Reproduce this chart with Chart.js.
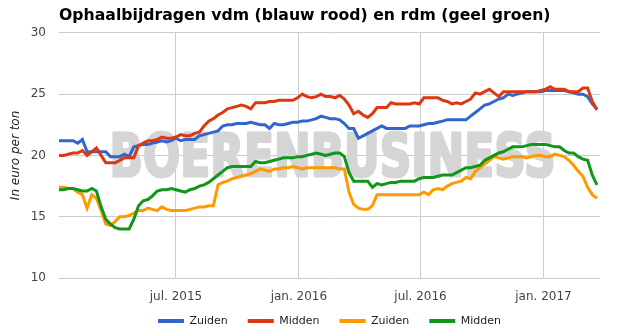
<!DOCTYPE html>
<html>
<head>
<meta charset="utf-8">
<script src="https://cdn.jsdelivr.net/npm/chart.js@4/dist/chart.umd.min.js"></script>
<style>
  html, body { margin: 0; padding: 0; background: #fff; }
  #wrap { width: 623px; height: 336px; }
</style>
</head>
<body>
<div id="wrap"><canvas id="c" width="623" height="336"></canvas></div>
<script>
// ---- data ----
const titleText = 'Ophaalbijdragen vdm (blauw rood) en rdm (geel groen)';
const yAxisTitle = 'In euro per ton';
const watermarkText = 'BOERENBUSINESS';
const startDate = '2015-01-07';           // first weekly observation
const tickLabels = ['jul. 2015', 'jan. 2016', 'jul. 2016', 'jan. 2017'];
const tickDates = ['2015-07-01', '2016-01-01', '2016-07-01', '2017-01-01'];
const seriesNames = ['Zuiden', 'Midden', 'Zuiden', 'Midden'];
const yTicks = [10, 15, 20, 25, 30];

const vdmZuiden = [
  21.2,21.2,21.2,21.2,21.0,21.3,20.3,20.3,20.3,20.3,
  20.3,19.9,19.9,19.9,20.1,19.9,20.7,20.8,20.9,20.9,
  21.0,21.1,21.2,21.1,21.2,21.4,21.2,21.3,21.3,21.3,
  21.6,21.7,21.8,21.9,22.0,22.4,22.5,22.5,22.6,22.6,
  22.6,22.7,22.6,22.5,22.5,22.2,22.6,22.5,22.5,22.6,
  22.7,22.7,22.8,22.8,22.9,23.0,23.2,23.1,23.0,23.0,
  22.9,22.6,22.2,22.2,21.4,21.6,21.8,22.0,22.2,22.4,
  22.2,22.2,22.2,22.2,22.2,22.4,22.4,22.4,22.5,22.6,
  22.6,22.7,22.8,22.9,22.9,22.9,22.9,22.9,23.2,23.5,
  23.8,24.1,24.2,24.4,24.6,24.7,25.0,24.9,25.0,25.1,
  25.2,25.2,25.2,25.2,25.3,25.3,25.3,25.3,25.3,25.2,
  25.1,25.0,25.0,24.8,24.2,23.8
];
const vdmMidden = [
  20.0,20.0,20.1,20.2,20.2,20.4,20.0,20.3,20.6,20.0,
  19.4,19.4,19.4,19.6,19.8,19.8,19.8,20.8,21.0,21.2,
  21.2,21.3,21.5,21.4,21.4,21.5,21.7,21.6,21.6,21.8,
  21.9,22.4,22.8,23.0,23.3,23.5,23.8,23.9,24.0,24.1,
  24.0,23.8,24.3,24.3,24.3,24.4,24.4,24.5,24.5,24.5,
  24.5,24.7,25.0,24.8,24.7,24.8,25.0,24.8,24.8,24.7,
  24.9,24.6,24.1,23.4,23.6,23.3,23.1,23.4,23.9,23.9,
  23.9,24.3,24.2,24.2,24.2,24.2,24.3,24.2,24.7,24.7,
  24.7,24.7,24.5,24.4,24.2,24.3,24.2,24.4,24.6,25.1,
  25.0,25.2,25.4,25.1,24.8,25.2,25.2,25.2,25.2,25.2,
  25.2,25.2,25.2,25.3,25.4,25.6,25.4,25.4,25.4,25.2,
  25.2,25.2,25.5,25.5,24.4,23.7
];
const rdmZuiden = [
  17.4,17.4,17.3,17.3,17.0,16.8,15.7,16.8,16.5,15.5,
  14.4,14.3,14.6,15.0,15.0,15.1,15.3,15.5,15.5,15.7,
  15.6,15.5,15.8,15.6,15.5,15.5,15.5,15.5,15.6,15.7,
  15.8,15.8,15.9,15.9,17.6,17.8,17.9,18.1,18.2,18.3,
  18.4,18.5,18.7,18.9,18.8,18.7,18.9,18.9,19.0,19.0,
  19.1,19.0,18.9,19.0,19.0,19.0,19.0,19.0,19.0,19.0,
  18.9,18.9,17.0,16.0,15.7,15.6,15.6,15.9,16.8,16.8,
  16.8,16.8,16.8,16.8,16.8,16.8,16.8,16.8,17.0,16.8,
  17.2,17.3,17.2,17.5,17.7,17.8,17.9,18.2,18.1,18.7,
  19.0,19.3,19.6,19.9,19.8,19.7,19.8,19.9,19.9,19.9,
  19.8,19.9,20.0,20.0,19.9,19.9,20.1,20.0,19.9,19.6,
  19.2,18.7,18.3,17.4,16.8,16.5
];
const rdmMidden = [
  17.2,17.2,17.3,17.3,17.2,17.1,17.1,17.3,17.1,15.8,
  14.8,14.4,14.1,14.0,14.0,14.0,14.8,15.9,16.3,16.4,
  16.7,17.1,17.2,17.2,17.3,17.2,17.1,17.0,17.2,17.3,
  17.5,17.6,17.8,18.1,18.4,18.7,19.0,19.1,19.1,19.1,
  19.1,19.1,19.5,19.4,19.4,19.5,19.6,19.7,19.8,19.8,
  19.8,19.9,19.9,20.0,20.1,20.2,20.1,20.0,20.1,20.2,
  20.2,19.9,18.6,17.9,17.9,17.9,17.9,17.4,17.7,17.6,
  17.7,17.8,17.8,17.9,17.9,17.9,17.9,18.1,18.2,18.2,
  18.2,18.3,18.4,18.4,18.4,18.6,18.8,19.0,19.0,19.1,
  19.2,19.6,19.8,20.0,20.2,20.3,20.5,20.7,20.7,20.7,
  20.8,20.9,20.9,20.9,20.9,20.8,20.7,20.7,20.4,20.2,
  20.2,19.9,19.7,19.6,18.4,17.6
];

// ---- helpers ----
const WEEK_MS = 7 * 86400000;
const weekIndex = d => (Date.parse(d) - Date.parse(startDate)) / WEEK_MS;
const tickPositions = tickDates.map(weekIndex);
const toPoints = arr => arr.map((v, i) => ({ x: i, y: v }));

const colors = ['#3366cc', '#dc3912', '#ff9900', '#109618'];
const seriesData = [vdmZuiden, vdmMidden, rdmZuiden, rdmMidden];

const watermark = {
  id: 'watermark',
  beforeDatasetsDraw(chart) {
    const { ctx, chartArea: a } = chart;
    ctx.save();
    ctx.font = 'bold 58px "DejaVu Sans"';
    ctx.fillStyle = '#d5d5d5';
    ctx.strokeStyle = '#d5d5d5';
    ctx.lineWidth = 3;
    ctx.lineJoin = 'round';
    ctx.textAlign = 'center';
    ctx.textBaseline = 'alphabetic';
    const w = ctx.measureText(watermarkText).width;
    const target = 446;
    const cx = (a.left + a.right) / 2 + 3;
    ctx.translate(cx, 176);
    ctx.scale(target / w, 1);
    ctx.strokeText(watermarkText, 0, 0);
    ctx.fillText(watermarkText, 0, 0);
    ctx.restore();
  }
};

// let the x-axis labels and the legend row use the room below their boxes
// (Chart.js v4 clips both to their own layout boxes)
const unclipBottom = {
  id: 'unclipBottom',
  afterLayout(chart) {
    const x = chart.scales.x;
    x.bottom = chart.height; x.height = x.bottom - x.top;
    const lg = chart.legend;
    if (lg) { lg.bottom = chart.height; lg.height = lg.bottom - lg.top; }
  }
};

const FONT = '"DejaVu Sans", Verdana, sans-serif';

new Chart(document.getElementById('c'), {
  type: 'line',
  data: {
    datasets: seriesData.map((arr, k) => ({
      label: seriesNames[k],
      data: toPoints(arr),
      borderColor: colors[k],
      backgroundColor: colors[k],
      borderWidth: 3,
      pointRadius: 0,
      tension: 0,
      order: 3 - k
    }))
  },
  options: {
    responsive: false,
    animation: false,
    layout: { padding: { left: 0, right: 23, top: 0, bottom: 12.5 } },
    plugins: {
      tooltip: { enabled: false },
      title: {
        display: true,
        text: titleText,
        align: 'start',
        fullSize: false,
        color: '#000',
        font: { family: FONT, size: 15.7, weight: 'bold' },
        padding: { top: 7, bottom: 7 }
      },
      legend: {
        position: 'bottom',
        fullSize: false,
        maxHeight: 28,
        labels: {
          color: '#222',
          font: { family: FONT, size: 11 },
          boxWidth: 26,
          boxHeight: 4,
          padding: 20,
          sort: (a, b) => a.datasetIndex - b.datasetIndex,
          generateLabels: (chart) =>
            Chart.defaults.plugins.legend.labels.generateLabels(chart)
              .map(l => Object.assign(l, { lineWidth: 0 }))
        }
      }
    },
    scales: {
      x: {
        type: 'linear',
        min: 0,
        max: 115.65,
        afterBuildTicks: (s) => { s.ticks = tickPositions.map(v => ({ value: v })); },
        afterFit: (s) => { s.height = 17.5; },
        ticks: {
          autoSkip: false,
          maxRotation: 0,
          padding: 12,
          color: '#444',
          font: { family: FONT, size: 12 },
          callback: (v, i) => tickLabels[i]
        },
        grid: { color: '#cccccc', drawTicks: false },
        border: { display: false }
      },
      y: {
        min: 10,
        max: 30,
        afterBuildTicks: (s) => { s.ticks = yTicks.map(v => ({ value: v })); },
        afterFit: (s) => { s.width = 59; },
        ticks: {
          padding: 13,
          color: '#444',
          font: { family: FONT, size: 12 }
        },
        grid: { color: '#cccccc', drawTicks: false },
        border: { display: false },
        title: {
          display: true,
          text: yAxisTitle,
          color: '#222',
          font: { family: FONT, size: 12, style: 'italic' },
          padding: { top: 9, bottom: 0 }
        }
      }
    }
  },
  plugins: [watermark, unclipBottom]
});
</script>
</body>
</html>
